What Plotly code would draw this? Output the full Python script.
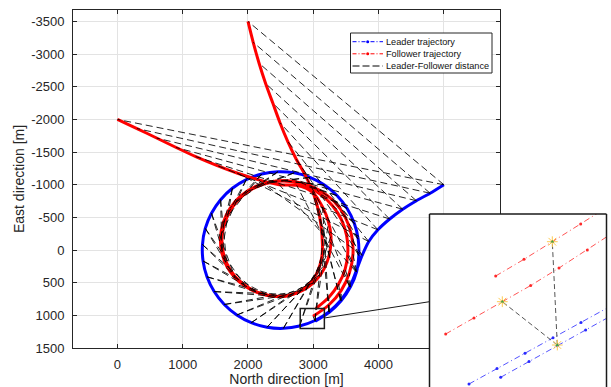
import plotly.graph_objects as go

W, H = 611, 387

# ---------------------------------------------------------------------------
# Positions [m] sampled at common time steps k = 0..42
# (leader and the two followers share the same sample index)
# ---------------------------------------------------------------------------
leader_x = [5000, 4790, 4580, 4370, 4170, 3990, 3850, 3750,
            3654, 3559, 3419, 3239, 3026, 2790, 2542, 2292, 2050, 1829,
            1637, 1482, 1372, 1312, 1303, 1346, 1441, 1581, 1761, 1974,
            2210, 2458, 2708, 2950, 3171, 3363, 3518, 3628, 3688, 3697,
            3663, 3568, 3427, 3245, 3030]
leader_y = [-1000, -870, -755, -625, -475, -310, -130, 80,
            331, 563, 771, 946, 1079, 1164, 1199, 1182, 1113, 995,
            834, 636, 410, 167, -84, -331, -563, -771, -946, -1079,
            -1164, -1199, -1182, -1113, -995, -834, -636, -410, -167, 84,
            333, 568, 778, 953, 1088]

follower1_x = [0, 300, 600, 900, 1200, 1510, 1830, 2150, 2479,
               2746, 2991, 3142, 3232, 3271, 3260, 3210, 3124, 3001, 2849,
               2677, 2493, 2305, 2120, 1946, 1790, 1674, 1610, 1609, 1680,
               1818, 2020, 2269, 2544, 2824, 3089, 3319, 3489, 3586, 3608,
               3553, 3429, 3238, 2997]
follower1_y = [-2000, -1860, -1715, -1570, -1430, -1300, -1180, -1080, -1000,
               -990, -883, -659, -433, -213, -4, 188, 360, 503, 612,
               682, 710, 693, 635, 535, 390, 201, -23, -266, -509,
               -731, -906, -1019, -1059, -1025, -917, -742, -504, -228, 64,
               351, 617, 842, 1015]

follower2_x = [2000, 2080, 2170, 2270, 2380, 2490, 2610, 2740, 2880,
               2990, 3070, 3120, 3140,
               3136, 3104, 3043, 2947, 2814, 2654, 2480, 2303, 2127, 1959,
               1805, 1679, 1601, 1578, 1620, 1727, 1893, 2111, 2360, 2622,
               2875, 3103, 3292, 3431, 3511, 3529, 3489, 3388, 3236, 3040]
follower2_y = [-3500, -3180, -2860, -2550, -2250, -1950, -1660, -1390, -1140,
               -900, -640, -370, -90,
               69, 225, 376, 513, 620, 688, 712, 695, 645, 555,
               426, 255, 47, -183, -419, -642, -832, -970, -1046, -1053,
               -986, -859, -682, -464, -220, 36, 288, 522, 728, 895]

# Axis ticks
x_ticks = [0, 1000, 2000, 3000, 4000, 5000]
x_tick_text = ["0", "1000", "2000", "3000", "4000", "5000"]
y_ticks = [-3500, -3000, -2500, -2000, -1500, -1000, -500, 0, 500, 1000, 1500]
y_tick_text = ["-3500", "-3000", "-2500", "-2000", "-1500", "-1000", "-500",
               "0", "500", "1000", "1500"]

# Region of the main map shown enlarged in the detail panel [m]
detail_x = [2800, 3170]
detail_y = [895, 1200]

# Detail panel (local frame): end of the manoeuvre
det_leader_a_u = [40, 68, 96, 124, 152, 180]
det_leader_a_v = [170, 154.6, 139.2, 123.8, 108.4, 93]
det_leader_b_u = [71.7, 100, 128.3, 156.6, 185]
det_leader_b_v = [163.3, 147.5, 131.8, 116, 100.2]
det_f1_u = [16.7, 45, 73.3, 101.7, 130, 158.3, 186.6]
det_f1_v = [120, 104, 87.7, 71.5, 54, 36, 17]
det_f2_u = [66.7, 95, 123.3, 151.7, 180]
det_f2_v = [62, 45.3, 27.7, 10, -8]
det_aircraft_u = [128.3, 73.3, 123.3]   # leader, follower 1, follower 2
det_aircraft_v = [131, 87.7, 27.7]

legend_labels = ["Leader trajectory", "Follower trajectory",
                 "Leader-Follower distance"]
legend_colors = ["#0000ff", "#ff0000", "#000000"]

FONT = "Liberation Sans, Arial, Helvetica, sans-serif"
TXT = "#262626"


def px(x):
    return x / W


def py(y):
    return 1 - y / H


fig = go.Figure()

# Trajectories
fig.add_trace(go.Scatter(x=leader_x, y=leader_y, mode="lines",
                         line=dict(color="#0000ff", width=3, shape="spline", smoothing=0.8),
                         showlegend=False, hoverinfo="skip"))
for fx, fy in [(follower1_x, follower1_y), (follower2_x, follower2_y)]:
    fig.add_trace(go.Scatter(x=fx, y=fy, mode="lines",
                             line=dict(color="#ff0000", width=3, shape="spline", smoothing=0.8),
                             showlegend=False, hoverinfo="skip"))

# Leader-follower distance segments
seg_x, seg_y = [], []
for fx, fy in [(follower1_x, follower1_y), (follower2_x, follower2_y)]:
    for k in range(len(leader_x)):
        seg_x += [leader_x[k], fx[k], None]
        seg_y += [leader_y[k], fy[k], None]
fig.add_trace(go.Scatter(x=seg_x, y=seg_y, mode="lines",
                         line=dict(color="rgba(0,0,0,0.85)", width=1, dash="7px,4px"),
                         showlegend=False, hoverinfo="skip"))

# Detail panel traces
for u, v in [(det_leader_a_u, det_leader_a_v), (det_leader_b_u, det_leader_b_v)]:
    fig.add_trace(go.Scatter(x=u, y=v, xaxis="x2", yaxis="y2", mode="lines+markers",
                             line=dict(color="rgba(40,40,255,0.8)", width=1, dash="6px,3px,1px,3px"),
                             marker=dict(size=3, color="#2828ff"),
                             showlegend=False, hoverinfo="skip"))
for u, v in [(det_f1_u, det_f1_v), (det_f2_u, det_f2_v)]:
    fig.add_trace(go.Scatter(x=u, y=v, xaxis="x2", yaxis="y2", mode="lines+markers",
                             line=dict(color="rgba(255,40,40,0.8)", width=1, dash="6px,3px,1px,3px"),
                             marker=dict(size=3, color="#ff2828"),
                             showlegend=False, hoverinfo="skip"))
det_seg_u, det_seg_v = [], []
for i in (1, 2):
    det_seg_u += [det_aircraft_u[0], det_aircraft_u[i], None]
    det_seg_v += [det_aircraft_v[0], det_aircraft_v[i], None]
fig.add_trace(go.Scatter(x=det_seg_u, y=det_seg_v, xaxis="x2", yaxis="y2", mode="lines",
                         line=dict(color="#555555", width=1, dash="5px,3px"),
                         showlegend=False, hoverinfo="skip"))
fig.add_trace(go.Scatter(x=det_aircraft_u, y=det_aircraft_v, xaxis="x2", yaxis="y2",
                         mode="markers",
                         marker=dict(symbol="asterisk-open", size=9,
                                     line=dict(color="#8a8a8a", width=1)),
                         showlegend=False, hoverinfo="skip"))
fig.add_trace(go.Scatter(x=det_aircraft_u, y=det_aircraft_v, xaxis="x2", yaxis="y2",
                         mode="markers",
                         marker=dict(symbol="triangle-up", size=3.5, color="#3fa34d"),
                         showlegend=False, hoverinfo="skip"))

axis_common = dict(showgrid=True, gridcolor="#e3e3e3", gridwidth=1, zeroline=False,
                   showline=True, linecolor=TXT, linewidth=1, mirror="allticks",
                   ticks="inside", ticklen=4, tickcolor=TXT, automargin=False,
                   tickfont=dict(size=13, color=TXT, family=FONT))

shapes = []
# White backing of the detail panel (drawn in the panel's own layer)
shapes.append(dict(type="rect", xref="x2", yref="y2", x0=-20, x1=200, y0=-20, y1=200,
                   fillcolor="white", line=dict(width=0), layer="below"))
# Marked region on the map
shapes.append(dict(type="rect", xref="x", yref="y", x0=detail_x[0], x1=detail_x[1],
                   y0=detail_y[0], y1=detail_y[1], line=dict(color="#1a1a1a", width=1.5),
                   layer="above"))
# Connector from the marked region to the detail panel
shapes.append(dict(type="line", xref="paper", yref="paper", x0=px(324.3), y0=py(318),
                   x1=px(429.5), y1=py(301.7), line=dict(color="#1a1a1a", width=1),
                   layer="above"))
# Detail panel frame
for (xa, ya, xb, yb) in [(429.5, 214, 429.5, 400), (429.5, 214, 606.5, 214),
                         (606.5, 214, 606.5, 400)]:
    shapes.append(dict(type="line", xref="paper", yref="paper", x0=px(xa), y0=py(ya),
                       x1=px(xb), y1=py(yb), line=dict(color="#1a1a1a", width=1.5),
                       layer="above"))

# Legend box
shapes.append(dict(type="rect", xref="paper", yref="paper", x0=px(350.5), x1=px(492),
                   y0=py(33), y1=py(73), fillcolor="white",
                   line=dict(color="#262626", width=1), layer="above"))
annotations = []
rows = [41.7, 53.8, 66.0]
for label, col, ry, i in zip(legend_labels, legend_colors, rows, range(3)):
    dash = "7px,3px" if i == 2 else "4px,2px,1px,2px"
    shapes.append(dict(type="line", xref="paper", yref="paper", x0=px(352.5), x1=px(383),
                       y0=py(ry), y1=py(ry), line=dict(color=col, width=1, dash=dash),
                       layer="above"))
    if i < 2:
        shapes.append(dict(type="circle", xref="paper", yref="paper",
                           x0=px(366.2), x1=px(369.2), y0=py(ry - 1.5), y1=py(ry + 1.5),
                           fillcolor=col, line=dict(color=col, width=0), layer="above"))
    annotations.append(dict(x=px(383.8), y=py(ry), xref="paper", yref="paper",
                            text=label, showarrow=False, xanchor="left", yanchor="middle",
                            font=dict(size=9.2, color="#111111", family=FONT)))

fig.update_layout(
    width=W, height=H,
    margin=dict(l=0, r=0, t=0, b=0),
    paper_bgcolor="white", plot_bgcolor="white",
    font=dict(family=FONT, color=TXT),
    showlegend=False,
    xaxis=dict(domain=[px(73), px(500)], range=[-680, 5860], anchor="y",
               tickvals=x_ticks, ticktext=x_tick_text, ticklabelstandoff=4,
               title=dict(text="North direction [m]", standoff=3,
                          font=dict(size=14, color=TXT, family=FONT)),
               **axis_common),
    yaxis=dict(domain=[1 - 348 / H, 1 - 10 / H], range=[1500, -3675], anchor="x",
               tickvals=y_ticks, ticktext=y_tick_text, ticklabelstandoff=5,
               title=dict(text="East direction [m]", standoff=3,
                          font=dict(size=14, color=TXT, family=FONT)),
               **axis_common),
    xaxis2=dict(domain=[px(429), px(607)], range=[0, 178], anchor="y2", visible=False),
    yaxis2=dict(domain=[0, 1 - 214 / H], range=[173, 0], anchor="x2", visible=False),
    shapes=shapes,
    annotations=annotations,
)

fig.write_html("out.html")
